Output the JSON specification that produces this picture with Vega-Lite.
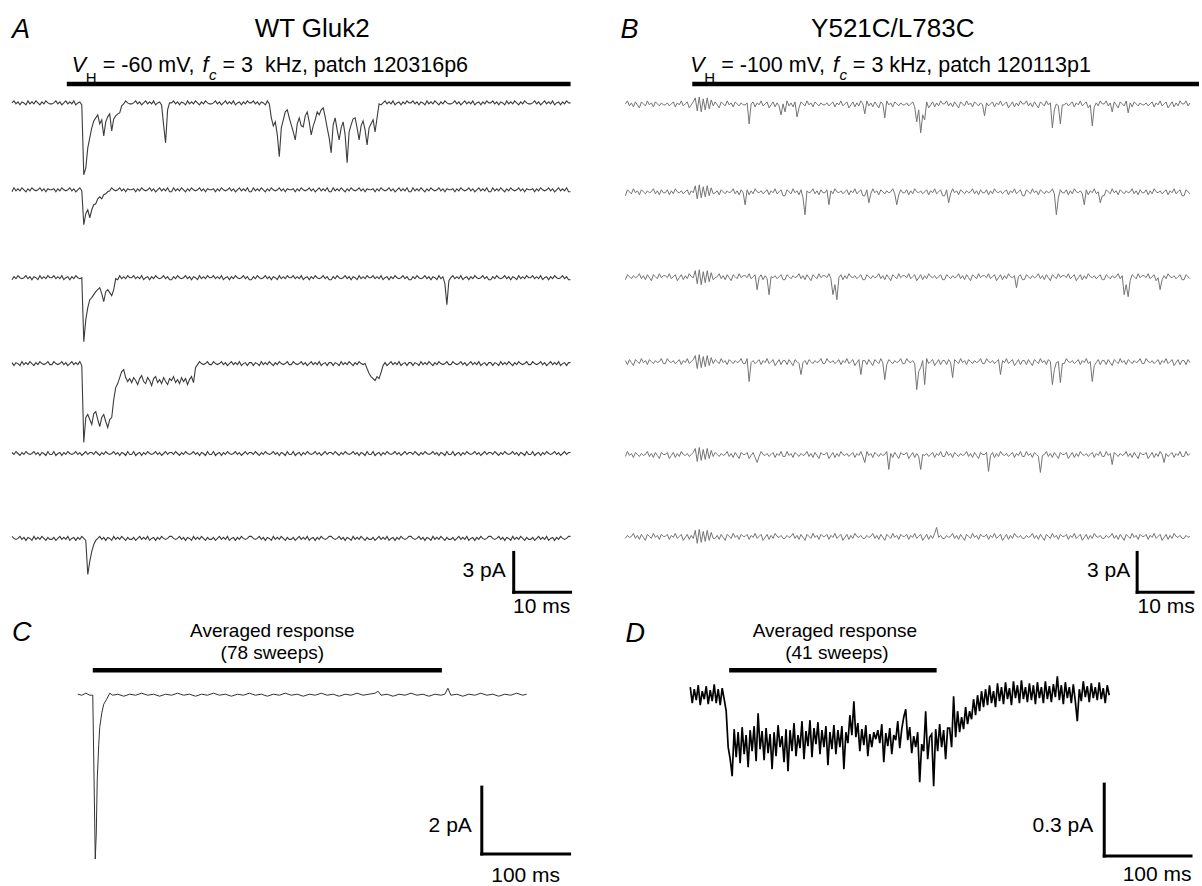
{
"$schema": "https://vega.github.io/schema/vega-lite/v6.json",
"width": 1202, "height": 886,
"autosize": {"type": "fit", "contains": "padding"},
"padding": 0,
"background": "white",
"config": {"view": {"stroke": null}, "text": {"font": "Liberation Sans"}},
"datasets": {
"A": [{
"x": [12,14,16,18,20,22,24,26,28,30,32,34,36,38,40,42,44,46,48,50,
52,54,56,58,60,62,64,66,68,70,72,74,76,78,80,82,84,86,88,90,
92,94,96,98,100,102,104,106,108,110,112,114,116,118,120,122,124,126,128,130,
132,134,136,138,140,142,144,146,148,150,152,154,156,158,160,162,164,166,168,170,
172,174,176,178,180,182,184,186,188,190,192,194,196,198,200,202,204,206,208,210,
212,214,216,218,220,222,224,226,228,230,232,234,236,238,240,242,244,246,248,250,
252,254,256,258,260,262,264,266,268,270,272,274,276,278,280,282,284,286,288,290,
292,294,296,298,300,302,304,306,308,310,312,314,316,318,320,322,324,326,328,330,
332,334,336,338,340,342,344,346,348,350,352,354,356,358,360,362,364,366,368,370,
372,374,376,378,380,382,384,386,388,390,392,394,396,398,400,402,404,406,408,410,
412,414,416,418,420,422,424,426,428,430,432,434,436,438,440,442,444,446,448,450,
452,454,456,458,460,462,464,466,468,470,472,474,476,478,480,482,484,486,488,490,
492,494,496,498,500,502,504,506,508,510,512,514,516,518,520,522,524,526,528,530,
532,534,536,538,540,542,544,546,548,550,552,554,556,558,560,562,564,566,568,570,
572],
"a": [103,101,104,102,105,102,103,105,101,104,102,104,101,103,105,102,104,101,103,104,
104,103,101,104,102,105,103,101,104,102,104,101,105,103,102,105,175,168,148,138,
128,121,118,115,124,120,136,122,117,114,131,119,116,114,113,106,104,101,103,104,
104,103,101,104,102,105,103,101,104,102,104,101,105,103,102,105,125,143,110,103,
103,101,104,102,105,102,103,105,101,104,102,104,101,103,105,102,104,101,103,104,
104,103,101,104,102,105,103,101,104,102,104,101,105,103,102,105,102,104,101,103,
103,101,104,102,105,102,103,105,101,104,118,126,122,135,157,128,120,112,110,118,
125,132,140,124,118,126,127,116,112,122,135,126,120,112,115,110,108,117,128,138,
153,125,118,130,140,128,122,135,163,132,125,119,118,128,140,126,121,130,145,128,
124,120,132,118,104,105,103,101,104,102,104,101,105,103,102,105,102,104,101,103,
103,101,104,102,105,102,103,105,101,104,102,104,101,103,105,102,104,101,103,104,
104,103,101,104,102,105,103,101,104,102,104,101,105,103,102,105,102,104,101,103,
103,101,104,102,105,102,103,105,101,104,102,104,101,103,105,102,104,101,103,104,
104,103,101,104,102,105,103,101,104,102,104,101,105,103,102,105,102,104,101,103,
103],
"b": [192,188,191,189,191,188,190,192,189,191,188,190,191,190,188,191,189,192,189,190,
190,189,192,189,191,188,190,191,190,188,191,189,192,190,188,191,225,214,210,218,
210,205,204,199,197,199,195,194,192,191,188,190,191,190,188,191,189,192,189,190,
190,189,192,189,191,188,190,191,190,188,191,189,192,190,188,191,189,191,188,192,
192,188,191,189,191,188,190,192,189,191,188,190,191,190,188,191,189,192,189,190,
190,189,192,189,191,188,190,191,190,188,191,189,192,190,188,191,189,191,188,192,
192,188,191,189,191,188,190,192,189,191,188,190,191,190,188,191,189,192,189,190,
190,189,192,189,191,188,190,191,190,188,191,189,192,190,188,191,189,191,188,192,
192,188,191,189,191,188,190,192,189,191,188,190,191,190,188,191,189,192,189,190,
190,189,192,189,191,188,190,191,190,188,191,189,192,190,188,191,189,191,188,192,
192,188,191,189,191,188,190,192,189,191,188,190,191,190,188,191,189,192,189,190,
190,189,192,189,191,188,190,191,190,188,191,189,192,190,188,191,189,191,188,192,
192,188,191,189,191,188,190,192,189,191,188,190,191,190,188,191,189,192,189,190,
190,189,192,189,191,188,190,191,190,188,191,189,192,190,188,191,189,191,188,192,
192],
"c": [280,277,279,276,278,279,278,276,279,277,280,277,278,280,276,279,277,279,276,278,
278,276,279,277,279,276,280,278,277,280,277,279,276,278,279,278,342,320,308,300,
298,295,292,290,288,294,302,292,290,293,296,290,279,280,276,279,277,279,276,278,
278,276,279,277,279,276,280,278,277,280,277,279,276,278,279,278,276,279,277,280,
280,277,279,276,278,279,278,276,279,277,280,277,278,280,276,279,277,279,276,278,
278,276,279,277,279,276,280,278,277,280,277,279,276,278,279,278,276,279,277,280,
280,277,279,276,278,279,278,276,279,277,280,277,278,280,276,279,277,279,276,278,
278,276,279,277,279,276,280,278,277,280,277,279,276,278,279,278,276,279,277,280,
280,277,279,276,278,279,278,276,279,277,280,277,278,280,276,279,277,279,276,278,
278,276,279,277,279,276,280,278,277,280,277,279,276,278,279,278,276,279,277,280,
280,277,279,276,278,279,278,276,279,277,280,277,278,280,276,279,277,284,305,281,
278,276,279,277,279,276,280,278,277,280,277,279,276,278,279,278,276,279,277,280,
280,277,279,276,278,279,278,276,279,277,280,277,278,280,276,279,277,279,276,278,
278,276,279,277,279,276,280,278,277,280,277,279,276,278,279,278,276,279,277,280,
280],
"d": [363,366,363,364,366,362,365,363,365,362,364,366,363,365,362,364,365,364,362,365,
365,362,364,365,364,362,365,363,366,364,362,365,363,365,362,366,443,418,415,420,
425,414,412,420,427,418,415,422,428,420,418,400,388,384,378,372,370,378,382,379,
383,378,381,385,379,376,382,384,378,381,386,379,377,383,380,384,378,382,385,379,
381,377,383,380,384,378,382,379,385,380,377,383,368,365,362,364,365,364,362,365,
365,362,364,365,364,362,365,363,366,364,362,365,363,365,362,366,364,363,366,363,
363,366,363,364,366,362,365,363,365,362,364,366,363,365,362,364,365,364,362,365,
365,362,364,365,364,362,365,363,366,364,362,365,363,365,362,366,364,363,366,363,
363,366,363,364,366,362,365,363,365,362,364,366,363,365,362,364,365,364,369,374,
377,379,381,377,379,373,366,363,366,364,362,365,363,365,362,366,364,363,366,363,
363,366,363,364,366,362,365,363,365,362,364,366,363,365,362,364,365,364,362,365,
365,362,364,365,364,362,365,363,366,364,362,365,363,365,362,366,364,363,366,363,
363,366,363,364,366,362,365,363,365,362,364,366,363,365,362,364,365,364,362,365,
365,362,364,365,364,362,365,363,366,364,362,365,363,365,362,366,364,363,366,363,
363],
"e": [453,455,452,454,456,453,455,452,454,455,454,452,455,453,456,453,454,456,452,455,
455,452,456,454,453,456,453,455,452,454,455,454,452,455,453,456,454,452,455,453,
453,455,452,454,456,453,455,452,454,455,454,452,455,453,456,453,454,456,452,455,
455,452,456,454,453,456,453,455,452,454,455,454,452,455,453,456,454,452,455,453,
453,455,452,454,456,453,455,452,454,455,454,452,455,453,456,453,454,456,452,455,
455,452,456,454,453,456,453,455,452,454,455,454,452,455,453,456,454,452,455,453,
453,455,452,454,456,453,455,452,454,455,454,452,455,453,456,453,454,456,452,455,
455,452,456,454,453,456,453,455,452,454,455,454,452,455,453,456,454,452,455,453,
453,455,452,454,456,453,455,452,454,455,454,452,455,453,456,453,454,456,452,455,
455,452,456,454,453,456,453,455,452,454,455,454,452,455,453,456,454,452,455,453,
453,455,452,454,456,453,455,452,454,455,454,452,455,453,456,453,454,456,452,455,
455,452,456,454,453,456,453,455,452,454,455,454,452,455,453,456,454,452,455,453,
453,455,452,454,456,453,455,452,454,455,454,452,455,453,456,453,454,456,452,455,
455,452,456,454,453,456,453,455,452,454,455,454,452,455,453,456,454,452,455,453,
453],
"f": [537,539,540,539,537,540,538,541,538,539,541,537,540,538,540,537,539,541,538,540,
540,538,541,539,537,540,538,540,537,541,539,538,541,538,540,537,539,541,575,562,
552,545,541,539,537,540,538,541,538,539,541,537,540,538,540,537,539,541,538,540,
540,538,541,539,537,540,538,540,537,541,539,538,541,538,540,537,539,540,539,537,
537,539,540,539,537,540,538,541,538,539,541,537,540,538,540,537,539,541,538,540,
540,538,541,539,537,540,538,540,537,541,539,538,541,538,540,537,539,540,539,537,
537,539,540,539,537,540,538,541,538,539,541,537,540,538,540,537,539,541,538,540,
540,538,541,539,537,540,538,540,537,541,539,538,541,538,540,537,539,540,539,537,
537,539,540,539,537,540,538,541,538,539,541,537,540,538,540,537,539,541,538,540,
540,538,541,539,537,540,538,540,537,541,539,538,541,538,540,537,539,540,539,537,
537,539,540,539,537,540,538,541,538,539,541,537,540,538,540,537,539,541,538,540,
540,538,541,539,537,540,538,540,537,541,539,538,541,538,540,537,539,540,539,537,
537,539,540,539,537,540,538,541,538,539,541,537,540,538,540,537,539,541,538,540,
540,538,541,539,537,540,538,540,537,541,539,538,541,538,540,537,539,540,539,537,
537]
}],
"B": [{
"x": [627,629,631,633,635,637,639,641,643,645,647,649,651,653,655,657,659,661,663,665,
667,669,671,673,675,677,679,681,683,685,687,689,691,693,695,697,699,701,703,705,
707,709,711,713,715,717,719,721,723,725,727,729,731,733,735,737,739,741,743,745,
747,749,751,753,755,757,759,761,763,765,767,769,771,773,775,777,779,781,783,785,
787,789,791,793,795,797,799,801,803,805,807,809,811,813,815,817,819,821,823,825,
827,829,831,833,835,837,839,841,843,845,847,849,851,853,855,857,859,861,863,865,
867,869,871,873,875,877,879,881,883,885,887,889,891,893,895,897,899,901,903,905,
907,909,911,913,915,917,919,921,923,925,927,929,931,933,935,937,939,941,943,945,
947,949,951,953,955,957,959,961,963,965,967,969,971,973,975,977,979,981,983,985,
987,989,991,993,995,997,999,1001,1003,1005,1007,1009,1011,1013,1015,1017,1019,1021,1023,1025,
1027,1029,1031,1033,1035,1037,1039,1041,1043,1045,1047,1049,1051,1053,1055,1057,1059,1061,1063,1065,
1067,1069,1071,1073,1075,1077,1079,1081,1083,1085,1087,1089,1091,1093,1095,1097,1099,1101,1103,1105,
1107,1109,1111,1113,1115,1117,1119,1121,1123,1125,1127,1129,1131,1133,1135,1137,1139,1141,1143,1145,
1147,1149,1151,1153,1155,1157,1159,1161,1163,1165,1167,1169,1171,1173,1175,1177,1179,1181,1183,1185,
1187,1189,1191,1193],
"a": [104,101,106,103,107,102,105,108,102,104,106,101,105,103,107,102,104,106,103,105,
105,103,106,104,102,107,103,105,101,106,104,102,108,105,102,98,111,97,112,99,
110,98,109,100,106,102,105,108,102,104,106,101,105,103,107,102,104,106,103,105,
105,103,124,104,102,107,103,105,101,106,104,102,108,105,102,107,103,106,115,104,
112,101,106,103,107,102,117,108,102,104,106,101,105,103,107,102,104,106,103,105,
105,103,106,104,102,107,103,105,101,106,104,102,108,105,102,107,103,106,101,104,
114,101,106,103,107,102,105,108,102,104,118,101,105,103,107,102,104,106,103,105,
105,103,106,104,102,107,122,110,133,115,120,102,108,105,102,107,103,106,101,104,
104,101,106,103,107,102,105,108,102,104,106,101,105,103,107,102,104,106,103,105,
116,103,106,104,102,107,103,105,101,106,104,102,108,105,102,107,103,106,101,104,
104,101,106,103,107,102,105,108,102,104,106,101,105,103,128,110,104,106,124,105,
105,103,106,104,102,107,103,105,101,106,104,102,108,105,126,107,103,106,101,104,
104,101,106,103,112,102,105,108,102,104,106,101,113,103,107,102,104,106,103,105,
105,103,106,104,102,107,103,105,101,106,104,102,108,105,102,107,103,106,101,104,
104,101,106,103],
"b": [196,190,192,194,189,193,191,195,190,192,194,191,193,192,189,194,191,195,190,193,
193,190,195,191,194,189,192,193,191,194,192,190,195,191,193,186,199,185,198,187,
197,186,196,188,194,193,191,195,190,192,194,191,193,192,189,194,191,195,190,193,
205,190,195,191,194,189,192,193,191,194,192,190,195,191,193,189,194,192,190,196,
196,190,192,194,189,193,191,195,190,198,215,191,193,192,189,194,191,195,190,193,
193,190,205,191,194,189,192,193,191,194,192,190,195,191,193,189,194,192,190,196,
196,190,203,194,189,193,191,195,190,192,194,191,193,192,189,194,205,195,190,193,
193,190,195,191,194,189,192,193,191,194,192,190,195,191,193,189,194,192,190,196,
196,190,203,194,189,193,191,195,190,192,194,191,193,192,189,194,191,195,190,193,
193,190,195,191,194,189,192,193,191,194,192,190,195,191,193,189,194,192,190,196,
196,190,192,194,189,193,191,195,190,192,194,191,193,192,189,194,215,198,190,193,
193,190,195,191,194,189,192,193,191,194,205,190,195,191,193,189,194,192,203,196,
196,190,192,194,189,193,191,195,190,192,194,191,193,192,189,194,191,195,190,193,
193,190,195,191,194,189,192,193,191,194,192,190,195,191,193,189,194,192,190,196,
196,190,192,194],
"c": [280,275,277,279,276,278,277,274,279,276,280,275,278,281,275,277,279,274,278,276,
276,278,274,279,277,275,281,278,275,280,276,279,274,277,278,271,284,270,285,272,
283,271,282,273,280,278,277,274,279,276,280,275,278,281,275,277,279,274,278,276,
276,278,274,279,277,275,290,278,275,280,276,279,295,277,278,276,279,277,275,280,
280,275,277,279,276,278,277,274,279,276,280,275,278,281,275,277,279,274,278,276,
276,278,274,279,295,285,300,278,275,280,276,279,274,277,278,276,279,277,275,280,
280,275,277,279,276,278,277,274,279,276,280,275,278,281,275,277,279,274,278,276,
276,278,274,279,277,275,281,278,275,280,276,279,274,277,278,276,279,277,275,280,
280,275,277,279,276,278,277,274,279,276,280,275,278,281,275,277,279,274,278,276,
276,278,274,279,277,275,281,278,275,280,276,279,274,277,278,276,288,277,275,280,
280,275,277,279,276,278,277,274,279,276,280,275,278,281,275,277,279,274,278,276,
276,278,274,279,277,275,281,278,275,280,276,279,274,277,278,276,279,277,275,280,
280,275,277,279,276,278,277,274,279,276,295,285,297,281,275,277,279,274,278,276,
276,278,274,279,277,275,281,278,290,280,276,279,274,277,278,276,279,277,275,280,
280,275,277,279],
"d": [361,365,360,363,366,360,362,364,359,363,361,365,360,362,364,361,363,362,359,364,
364,359,362,363,361,364,362,360,365,361,363,359,364,362,360,356,369,355,368,357,
367,356,366,358,364,360,362,364,359,363,361,365,360,362,364,361,363,362,359,364,
364,359,382,363,361,364,362,360,365,361,363,359,364,362,360,366,363,360,365,361,
361,365,360,363,366,360,362,364,375,363,361,365,360,362,364,361,363,362,359,364,
364,359,362,363,361,364,362,360,365,361,363,359,364,362,360,366,363,360,375,361,
361,365,360,363,366,360,362,364,359,363,380,365,360,362,364,361,363,362,359,364,
364,359,362,363,361,364,390,372,368,361,385,359,364,362,360,366,363,360,365,361,
361,365,360,363,378,360,362,364,359,363,361,365,360,362,364,361,363,362,359,364,
364,359,362,363,361,364,362,360,375,361,363,359,364,362,360,366,363,360,365,361,
361,365,360,363,366,360,362,364,359,363,361,365,360,362,385,370,363,362,383,364,
364,359,362,363,361,364,362,360,365,361,363,359,364,362,382,366,363,360,365,361,
361,365,360,363,366,360,362,364,359,363,361,365,360,362,364,361,363,362,359,364,
364,359,362,363,361,364,362,360,365,361,363,359,364,362,360,366,363,360,365,361,
361,365,360,363],
"e": [457,452,456,454,458,453,455,457,454,456,455,452,457,454,458,453,456,459,453,455,
455,453,459,456,453,458,454,457,452,455,456,454,457,455,453,449,462,448,461,450,
460,449,459,451,457,453,455,457,454,456,455,452,457,454,458,453,456,459,453,455,
455,453,459,456,453,458,463,457,452,455,456,454,457,455,453,458,454,456,452,457,
457,452,456,454,458,453,455,457,454,456,455,452,457,454,458,453,456,459,453,455,
455,453,459,456,453,458,454,457,452,455,456,454,457,455,453,458,454,456,452,457,
463,452,456,454,458,453,455,457,454,456,455,452,470,454,458,453,456,459,453,455,
455,453,459,456,453,458,454,457,470,455,456,454,457,455,453,458,454,456,452,457,
457,452,456,454,458,453,455,457,454,456,455,452,457,454,458,453,456,459,453,455,
455,453,472,456,453,458,454,457,452,455,456,454,457,455,453,458,454,456,452,457,
457,452,456,454,458,453,455,457,473,456,455,452,457,454,458,453,456,459,453,455,
455,453,459,456,453,458,454,457,452,455,456,454,457,455,453,458,454,456,452,457,
457,452,456,454,465,453,455,457,454,456,455,452,457,454,458,453,456,459,453,455,
455,453,459,456,453,458,454,457,452,455,463,454,457,455,453,458,454,456,452,457,
457,452,456,454],
"f": [539,536,538,537,534,539,536,540,535,538,541,535,537,539,534,538,536,540,535,537,
537,535,540,536,538,534,539,537,535,541,538,535,540,536,539,531,544,530,543,532,
542,531,541,533,539,539,536,540,535,538,541,535,537,539,534,538,536,540,535,537,
537,535,540,536,538,534,539,537,535,541,538,535,540,536,539,534,537,538,536,539,
539,536,538,537,534,539,536,540,535,538,541,535,537,539,534,538,536,540,535,537,
537,535,540,536,538,534,539,537,535,541,538,535,540,536,539,534,537,538,536,539,
539,536,538,537,534,539,536,540,535,538,541,535,537,539,534,538,536,540,535,537,
537,535,540,536,538,534,539,537,535,541,538,535,540,536,539,534,528,538,536,539,
539,536,538,537,534,539,536,540,535,538,541,535,537,539,534,538,536,540,535,537,
537,535,540,536,538,534,539,537,535,541,538,535,540,536,539,534,537,538,536,539,
539,536,538,537,534,539,536,540,535,538,541,535,537,539,534,538,536,540,535,537,
537,535,540,536,538,534,539,537,535,541,538,535,540,536,539,534,537,538,536,539,
539,536,538,537,534,539,536,540,535,538,541,535,537,539,534,538,536,540,535,537,
537,535,540,536,538,534,539,537,535,541,538,535,540,536,539,534,537,538,536,539,
539,536,538,537]
}],
"C": [
{"x":78,"y":695},{"x":82,"y":696},{"x":86,"y":694},{"x":90,"y":696},{"x":93,"y":696},{"x":95.5,"y":860},{"x":96.5,"y":835},{"x":97.5,"y":780},{"x":99,"y":745},{"x":100,"y":728},{"x":102,"y":714},{"x":104,"y":705},{"x":107,"y":700},{"x":110,"y":694},{"x":113,"y":696},{"x":118,"y":695},{"x":124,"y":697},{"x":130,"y":695},{"x":136,"y":696},{"x":142,"y":694},{"x":148,"y":696},{"x":154,"y":695},{"x":160,"y":697},{"x":166,"y":695},{"x":172,"y":696},{"x":178,"y":694},{"x":184,"y":696},{"x":190,"y":695},{"x":196,"y":697},{"x":202,"y":695},{"x":208,"y":696},{"x":214,"y":694},{"x":220,"y":696},{"x":226,"y":695},{"x":232,"y":697},{"x":238,"y":695},{"x":244,"y":696},{"x":250,"y":694},{"x":256,"y":696},{"x":262,"y":695},{"x":268,"y":697},{"x":274,"y":695},{"x":280,"y":696},{"x":286,"y":694},{"x":292,"y":696},{"x":298,"y":695},{"x":304,"y":697},{"x":310,"y":695},{"x":316,"y":696},{"x":322,"y":694},{"x":328,"y":696},{"x":334,"y":695},{"x":340,"y":697},{"x":346,"y":695},{"x":352,"y":696},{"x":358,"y":694},{"x":364,"y":696},{"x":370,"y":695},{"x":376,"y":694},{"x":379,"y":692},{"x":382,"y":696},{"x":388,"y":695},{"x":394,"y":697},{"x":400,"y":695},{"x":406,"y":696},{"x":412,"y":694},{"x":418,"y":696},{"x":424,"y":695},{"x":430,"y":697},{"x":436,"y":695},{"x":442,"y":696},{"x":446,"y":695},{"x":449,"y":689},{"x":452,"y":696},{"x":458,"y":695},{"x":464,"y":697},{"x":470,"y":695},{"x":476,"y":696},{"x":482,"y":694},{"x":488,"y":696},{"x":494,"y":695},{"x":500,"y":697},{"x":506,"y":695},{"x":512,"y":696},{"x":518,"y":694},{"x":524,"y":696},{"x":528,"y":695}
],
"D": [{
"x": [692,694,696,698,700,702,704,706,708,710,712,714,716,718,720,722,724,726,728,730,
732,734,736,738,740,742,744,746,748,750,752,754,756,758,760,762,764,766,768,770,
772,774,776,778,780,782,784,786,788,790,792,794,796,798,800,802,804,806,808,810,
812,814,816,818,820,822,824,826,828,830,832,834,836,838,840,842,844,846,848,850,
852,854,856,858,860,862,864,866,868,870,872,874,876,878,880,882,884,886,888,890,
892,894,896,898,900,902,904,906,908,910,912,914,916,918,920,922,924,926,928,930,
932,934,936,938,940,942,944,946,948,950,952,954,956,958,960,962,964,966,968,970,
972,974,976,978,980,982,984,986,988,990,992,994,996,998,1000,1002,1004,1006,1008,1010,
1012,1014,1016,1018,1020,1022,1024,1026,1028,1030,1032,1034,1036,1038,1040,1042,1044,1046,1048,1050,
1052,1054,1056,1058,1060,1062,1064,1066,1068,1070,1072,1074,1076,1078,1080,1082,1084,1086,1088,1090,
1092,1094,1096,1098,1100,1102,1104,1106,1108,1110,1112],
"y": [688,704,690,701,686,706,692,700,687,705,691,702,685,704,690,706,689,700,
712,748,
760,777,730,758,733,764,728,755,736,768,731,752,727,762,714,
750,732,761,729,754,735,770,733,757,726,748,737,763,730,772,
731,752,724,757,736,749,722,760,732,747,721,758,729,745,723,755,731,748,727,766,
733,750,726,755,731,748,727,770,733,744,716,736,702,738,724,
752,730,746,726,757,735,748,733,740,731,744,725,763,734,747,729,755,736,741,722,749,730,
718,710,741,728,754,737,748,733,
783,745,752,712,760,738,735,787,730,752,725,748,731,760,729,
729,748,697,738,712,733,718,730,708,725,712,720,700,716,696,712,692,708,
690,706,686,704,692,708,684,702,688,705,683,700,689,706,682,699,686,704,681,700,
688,703,684,701,686,705,683,699,688,704,682,700,687,703,685,698,677,701,686,705,
683,699,688,704,685,702,722,690,702,682,698,687,703,684,699,688,701,683,700,689,
704,686,696]
}],
"rules": [
{"kind":"bar","x":67,"y":84,"x2":572,"y2":84},
{"kind":"bar","x":694,"y":84,"x2":1202,"y2":84},
{"kind":"bar","x":93,"y":671,"x2":443,"y2":671},
{"kind":"bar","x":731,"y":671,"x2":939,"y2":671},
{"kind":"scale","x":515,"y":553,"x2":515,"y2":593},
{"kind":"scale","x":515,"y":593,"x2":572,"y2":593},
{"kind":"scale","x":1140,"y":553,"x2":1140,"y2":593},
{"kind":"scale","x":1140,"y":593,"x2":1196,"y2":593},
{"kind":"scale","x":483,"y":788,"x2":483,"y2":855},
{"kind":"scale","x":483,"y":855,"x2":571,"y2":855},
{"kind":"scale","x":1107,"y":785,"x2":1107,"y2":857},
{"kind":"scale","x":1107,"y":857,"x2":1194,"y2":857}
],
"texts": [
{"role":"letter","t":"A","x":12,"y":30},
{"role":"letter","t":"B","x":622,"y":30},
{"role":"letter","t":"C","x":12,"y":634},
{"role":"letter","t":"D","x":627,"y":635},
{"role":"title","t":"WT Gluk2","x":313,"y":29},
{"role":"title","t":"Y521C/L783C","x":895,"y":29},
{"role":"subi","t":"V","x":72,"y":72},
{"role":"subsc","t":"H","x":86,"y":83},
{"role":"sub","t":"= -60 mV,","x":103,"y":72},
{"role":"subi","t":"f","x":203,"y":72},
{"role":"subsci","t":"c","x":209.5,"y":80},
{"role":"sub","t":"= 3\u00a0 kHz, patch 120316p6","x":223,"y":72},
{"role":"subi","t":"V","x":692,"y":72},
{"role":"subsc","t":"H","x":706,"y":83},
{"role":"sub","t":"= -100 mV,","x":723,"y":72},
{"role":"subi","t":"f","x":835,"y":72},
{"role":"subsci","t":"c","x":841.5,"y":80},
{"role":"sub","t":"= 3 kHz, patch 120113p1","x":855,"y":72},
{"role":"avg","t":"Averaged response","x":273,"y":632},
{"role":"avg","t":"(78 sweeps)","x":273,"y":654},
{"role":"avg","t":"Averaged response","x":837,"y":632},
{"role":"avg","t":"(41 sweeps)","x":839,"y":654},
{"role":"sr","t":"3 pA","x":507,"y":572},
{"role":"sr","t":"3 pA","x":1133,"y":572},
{"role":"sr","t":"2 pA","x":473,"y":827},
{"role":"sr","t":"0.3 pA","x":1096,"y":827},
{"role":"sc","t":"10 ms","x":543,"y":608},
{"role":"sc","t":"10 ms","x":1169,"y":608},
{"role":"sc","t":"100 ms","x":527,"y":877},
{"role":"sc","t":"100 ms","x":1160,"y":876}
]
},
"layer": [
{
"data": {"name": "A"},
"transform": [{"flatten": ["x","a","b","c","d","e","f"]}, {"fold": ["a","b","c","d","e","f"], "as": ["sw","v"]}],
"mark": {"type": "line", "stroke": "#3c3c3c", "strokeWidth": 1.1},
"encoding": {
"x": {"field": "x", "type": "quantitative", "scale": {"domain": [0,1202], "nice": false, "zero": false}, "axis": null},
"y": {"field": "v", "type": "quantitative", "scale": {"domain": [0,886], "reverse": true, "nice": false, "zero": false}, "axis": null},
"detail": {"field": "sw"}
}
},
{
"data": {"name": "B"},
"transform": [{"flatten": ["x","a","b","c","d","e","f"]}, {"fold": ["a","b","c","d","e","f"], "as": ["sw","v"]}],
"mark": {"type": "line", "stroke": "#747474", "strokeWidth": 1},
"encoding": {
"x": {"field": "x", "type": "quantitative"},
"y": {"field": "v", "type": "quantitative"},
"detail": {"field": "sw"}
}
},
{
"data": {"name": "C"},
"mark": {"type": "line", "stroke": "#333333", "strokeWidth": 1},
"encoding": {
"x": {"field": "x", "type": "quantitative"},
"y": {"field": "y", "type": "quantitative"}
}
},
{
"data": {"name": "D"},
"transform": [{"flatten": ["x","y"]}],
"mark": {"type": "line", "stroke": "#000000", "strokeWidth": 1.7},
"encoding": {
"x": {"field": "x", "type": "quantitative"},
"y": {"field": "y", "type": "quantitative"}
}
},
{
"data": {"name": "rules"},
"transform": [{"filter": "datum.kind === 'bar'"}],
"mark": {"type": "rule", "stroke": "#000000", "strokeWidth": 4.5},
"encoding": {
"x": {"field": "x", "type": "quantitative"},
"y": {"field": "y", "type": "quantitative"},
"x2": {"field": "x2"},
"y2": {"field": "y2"}
}
},
{
"data": {"name": "rules"},
"transform": [{"filter": "datum.kind === 'scale'"}],
"mark": {"type": "rule", "stroke": "#000000", "strokeWidth": 3, "strokeCap": "square"},
"encoding": {
"x": {"field": "x", "type": "quantitative"},
"y": {"field": "y", "type": "quantitative"},
"x2": {"field": "x2"},
"y2": {"field": "y2"}
}
},
{
"data": {"name": "texts"},
"transform": [{"filter": "datum.role === 'letter'"}],
"mark": {"type": "text", "fontSize": 27, "fontStyle": "italic", "align": "left", "baseline": "middle", "color": "#000"},
"encoding": {"x": {"field": "x", "type": "quantitative"}, "y": {"field": "y", "type": "quantitative"}, "text": {"field": "t"}}
},
{
"data": {"name": "texts"},
"transform": [{"filter": "datum.role === 'title'"}],
"mark": {"type": "text", "fontSize": 26, "align": "center", "baseline": "middle", "color": "#000"},
"encoding": {"x": {"field": "x", "type": "quantitative"}, "y": {"field": "y", "type": "quantitative"}, "text": {"field": "t"}}
},
{
"data": {"name": "texts"},
"transform": [{"filter": "datum.role === 'sub'"}],
"mark": {"type": "text", "fontSize": 21.5, "align": "left", "baseline": "alphabetic", "color": "#000"},
"encoding": {"x": {"field": "x", "type": "quantitative"}, "y": {"field": "y", "type": "quantitative"}, "text": {"field": "t"}}
},
{
"data": {"name": "texts"},
"transform": [{"filter": "datum.role === 'subi'"}],
"mark": {"type": "text", "fontSize": 21.5, "fontStyle": "italic", "align": "left", "baseline": "alphabetic", "color": "#000"},
"encoding": {"x": {"field": "x", "type": "quantitative"}, "y": {"field": "y", "type": "quantitative"}, "text": {"field": "t"}}
},
{
"data": {"name": "texts"},
"transform": [{"filter": "datum.role === 'subsc'"}],
"mark": {"type": "text", "fontSize": 15, "align": "left", "baseline": "alphabetic", "color": "#000"},
"encoding": {"x": {"field": "x", "type": "quantitative"}, "y": {"field": "y", "type": "quantitative"}, "text": {"field": "t"}}
},
{
"data": {"name": "texts"},
"transform": [{"filter": "datum.role === 'subsci'"}],
"mark": {"type": "text", "fontSize": 15, "fontStyle": "italic", "align": "left", "baseline": "alphabetic", "color": "#000"},
"encoding": {"x": {"field": "x", "type": "quantitative"}, "y": {"field": "y", "type": "quantitative"}, "text": {"field": "t"}}
},
{
"data": {"name": "texts"},
"transform": [{"filter": "datum.role === 'avg'"}],
"mark": {"type": "text", "fontSize": 19, "align": "center", "baseline": "middle", "color": "#000"},
"encoding": {"x": {"field": "x", "type": "quantitative"}, "y": {"field": "y", "type": "quantitative"}, "text": {"field": "t"}}
},
{
"data": {"name": "texts"},
"transform": [{"filter": "datum.role === 'sr'"}],
"mark": {"type": "text", "fontSize": 21, "align": "right", "baseline": "middle", "color": "#000"},
"encoding": {"x": {"field": "x", "type": "quantitative"}, "y": {"field": "y", "type": "quantitative"}, "text": {"field": "t"}}
},
{
"data": {"name": "texts"},
"transform": [{"filter": "datum.role === 'sc'"}],
"mark": {"type": "text", "fontSize": 21, "align": "center", "baseline": "middle", "color": "#000"},
"encoding": {"x": {"field": "x", "type": "quantitative"}, "y": {"field": "y", "type": "quantitative"}, "text": {"field": "t"}}
}
]
}
